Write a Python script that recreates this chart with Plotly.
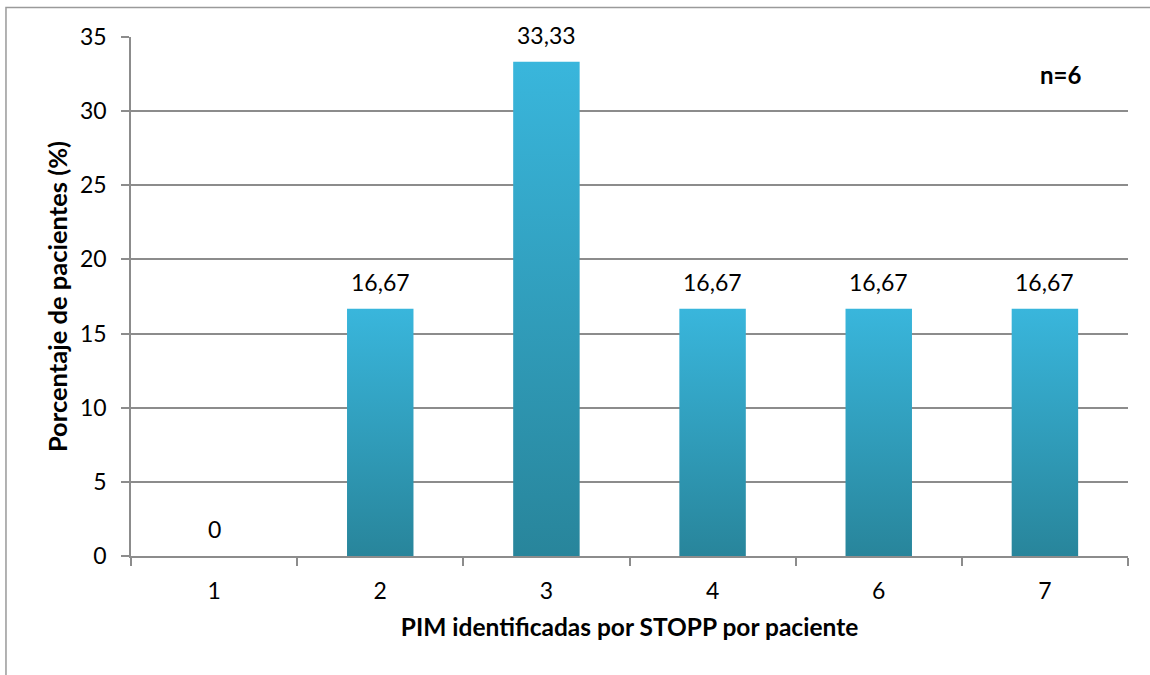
import plotly.graph_objects as go

categories = ["1", "2", "3", "4", "6", "7"]
values = [0, 16.67, 33.33, 16.67, 16.67, 16.67]
y_ticks = [0, 5, 10, 15, 20, 25, 30, 35]

FONT = "Lato"
GRID = "#8c8c8c"
TOP = "#39b6dc"
BOTTOM = "#28859b"
HALF = 0.2
FS = 23

fig = go.Figure()
for i, v in enumerate(values):
    if v <= 0:
        continue
    fig.add_trace(go.Scatter(
        x=[i - HALF, i + HALF, i + HALF, i - HALF, i - HALF],
        y=[0, 0, v, v, 0],
        mode="lines", fill="toself",
        line=dict(width=0, color=TOP),
        fillgradient=dict(type="vertical", colorscale=[[0, BOTTOM], [1, TOP]]),
        hoverinfo="skip", showlegend=False,
    ))

def fmt(v):
    return "0" if v == 0 else f"{v:.2f}".replace(".", ",")

for i, v in enumerate(values):
    fig.add_annotation(x=i, y=v, text=fmt(v), showarrow=False,
                       yshift=27, yanchor="middle",
                       font=dict(family=FONT, size=FS, color="#000"))

fig.add_annotation(x=0.9325, y=0.928, xref="paper", yref="paper", text="<b>n=6</b>",
                   xanchor="center", yanchor="middle",
                   showarrow=False, font=dict(family=FONT, size=24, color="#000"))

fig.add_shape(type="rect", xref="paper", yref="paper",
              x0=-0.1254, y0=-0.3, x1=1.1, y1=1.0568,
              line=dict(color="#9a9a9a", width=1.5))

fig.update_layout(
    width=1150, height=675,
    margin=dict(l=131, r=22, t=37, b=119),
    plot_bgcolor="white", paper_bgcolor="white",
    font=dict(family=FONT, size=FS, color="#000"),
    xaxis=dict(
        range=[-0.5, len(categories) - 0.5],
        tickvals=list(range(len(categories))), ticktext=categories,
        ticks="", showgrid=False, zeroline=False,
        showline=True, linecolor=GRID, linewidth=1.5,
        ticklabelstandoff=14,
        minor=dict(tickvals=[i - 0.5 for i in range(len(categories) + 1)],
                   ticks="outside", ticklen=8, tickcolor=GRID, tickwidth=1.5, showgrid=False),
        title=dict(text="<b>PIM identificadas por STOPP por paciente</b>",
                   font=dict(family=FONT, size=24.5), standoff=16),
        fixedrange=True,
    ),
    yaxis=dict(
        range=[0, 35], tickvals=y_ticks,
        ticks="outside", ticklen=8, tickcolor=GRID, tickwidth=1.5,
        showgrid=True, gridcolor=GRID, gridwidth=1.5,
        zeroline=False, showline=True, linecolor=GRID, linewidth=1.5,
        ticklabelstandoff=10,
        title=dict(text="<b>Porcentaje de pacientes (%)</b>",
                   font=dict(family=FONT, size=25.5), standoff=5),
        fixedrange=True,
    ),
)

fig.write_html("out.html", config={"displayModeBar": False},
               post_script="document.body.style.margin='0';")
